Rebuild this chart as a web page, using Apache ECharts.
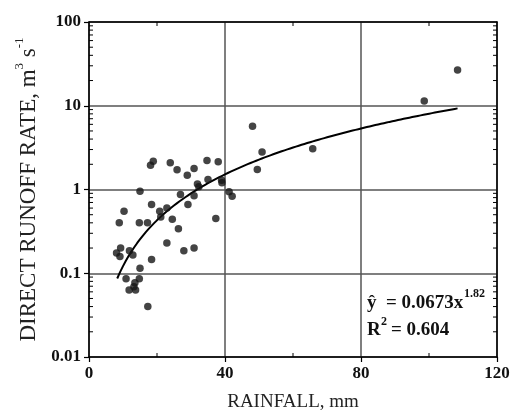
<!DOCTYPE html>
<html>
<head>
<meta charset="utf-8">
<script src="https://cdn.jsdelivr.net/npm/echarts@6/dist/echarts.min.js"></script>
<style>
  html, body { margin: 0; padding: 0; background: #fff; }
  #chart { width: 513px; height: 419px; }
</style>
</head>
<body>
<div id="chart"></div>
<script>
// Storm events: rainfall depth (mm) and direct runoff rate (m3/s)
const rainfall = [
  18.9, 18.1, 23.9, 25.9, 30.9, 28.9, 31.9, 32.3, 15.0, 26.9,
  30.9, 18.4, 10.3, 20.8, 22.9, 29.1, 21.1, 24.5, 8.9, 14.8,
  17.2, 26.3, 22.9, 30.9, 27.9, 9.3, 8.1, 9.1, 11.9, 12.9,
  18.4, 15.0, 10.9, 14.8, 13.5, 13.2, 11.8, 13.7, 17.3, 34.7,
  38.0, 35.0, 39.0, 39.1, 41.2, 42.1, 37.3, 48.1, 50.9, 49.5,
  65.8, 98.6, 108.4
];
const runoff = [
  2.18, 1.95, 2.08, 1.72, 1.78, 1.48, 1.16, 1.08, 0.955, 0.87,
  0.84, 0.66, 0.55, 0.55, 0.60, 0.66, 0.47, 0.44, 0.40, 0.40,
  0.40, 0.34, 0.23, 0.20, 0.185, 0.20, 0.175, 0.158, 0.186, 0.165,
  0.146, 0.115, 0.086, 0.086, 0.077, 0.069, 0.063, 0.063, 0.040, 2.22,
  2.15, 1.32, 1.29, 1.20, 0.94, 0.83, 0.45, 5.7, 2.8, 1.73,
  3.07, 11.4, 26.7
];

// Axis ticks
const xTicks = [0, 40, 80, 120];
const xMinorTicks = [20, 60, 100];
const yTicks = [0.01, 0.1, 1, 10, 100];
const yTickLabels = ['0.01', '0.1', '1', '10', '100'];

// Power-law fit drawn across the observed rainfall range (plot units)
const fitCoef = 0.00184;
const fitExp = 1.82;
const fitXStart = 8.3;
const fitXEnd = 108.4;
const fitSteps = 120;

const points = rainfall.map((x, i) => [x, runoff[i]]);

const fitLine = [];
for (let i = 0; i <= fitSteps; i++) {
  const x = fitXStart + (fitXEnd - fitXStart) * i / fitSteps;
  fitLine.push([x, fitCoef * Math.pow(x, fitExp)]);
}

// Inward minor ticks: [x, y, side] side 0=left 1=right 2=bottom 3=top
const xMin = xTicks[0], xMax = xTicks[xTicks.length - 1];
const yMin = yTicks[0], yMax = yTicks[yTicks.length - 1];
const innerTicks = [];
for (let d = 0; d < yTicks.length - 1; d++) {
  for (let k = 2; k <= 9; k++) {
    const v = yTicks[d] * k;
    innerTicks.push([xMin, v, 0]);
    innerTicks.push([xMax, v, 1]);
  }
}
xMinorTicks.forEach(v => {
  innerTicks.push([v, yMin, 2]);
  innerTicks.push([v, yMax, 3]);
});

const serif = '"Liberation Serif", "DejaVu Serif", serif';

const chart = echarts.init(document.getElementById('chart'), null, { renderer: 'canvas' });

chart.setOption({
  animation: false,
  backgroundColor: '#fff',
  grid: { left: 89, right: 16, top: 22, bottom: 62, containLabel: false },
  xAxis: [
    {
      type: 'value', min: xMin, max: xMax, interval: 40,
      name: 'RAINFALL, mm', nameLocation: 'middle', nameGap: 36,
      nameTextStyle: { fontFamily: serif, fontSize: 19, color: '#222' },
      axisLine: { show: true, onZero: false, lineStyle: { color: '#000', width: 1.5 } },
      axisTick: { show: true, length: 5, lineStyle: { color: '#000', width: 1.2 } },
      axisLabel: { fontFamily: serif, fontWeight: 'bold', fontSize: 17, color: '#111', margin: 8 },
      splitLine: { show: true, lineStyle: { color: '#555', width: 1.5 } }
    },
    {
      type: 'value', min: xMin, max: xMax, position: 'top',
      axisLine: { show: true, onZero: false, lineStyle: { color: '#000', width: 1.5 } },
      axisTick: { show: false }, axisLabel: { show: false }, splitLine: { show: false }
    }
  ],
  yAxis: [
    {
      type: 'log', logBase: 10, min: yMin, max: yMax,
      name: '{t|DIRECT RUNOFF RATE, m}{s|3}{t| s}{s|-1}',
      nameLocation: 'middle', nameGap: 47,
      nameTextStyle: {
        fontFamily: serif, fontSize: 23, color: '#222',
        rich: {
          t: { fontFamily: serif, fontSize: 23, color: '#222', lineHeight: 27, verticalAlign: 'bottom' },
          s: { fontFamily: serif, fontSize: 13, color: '#222', lineHeight: 27, verticalAlign: 'top' }
        }
      },
      axisLine: { show: true, onZero: false, lineStyle: { color: '#000', width: 1.5 } },
      axisTick: { show: true, length: 5, lineStyle: { color: '#000', width: 1.2 } },
      axisLabel: {
        fontFamily: serif, fontWeight: 'bold', fontSize: 17, color: '#111', margin: 8,
        formatter: (v, idx) => yTickLabels[idx]
      },
      splitLine: { show: true, lineStyle: { color: '#555', width: 1.5 } }
    },
    {
      type: 'log', logBase: 10, min: yMin, max: yMax, position: 'right',
      axisLine: { show: true, onZero: false, lineStyle: { color: '#000', width: 1.5 } },
      axisTick: { show: false }, axisLabel: { show: false }, splitLine: { show: false }
    }
  ],
  graphic: [
    { type: 'text', left: 367, top: 294, style: { text: 'ŷ', font: 'bold 19px ' + serif, fill: '#111' } },
    { type: 'text', left: 386, top: 294, style: { text: '= 0.0673x', font: 'bold 19px ' + serif, fill: '#111' } },
    { type: 'text', left: 464, top: 288, style: { text: '1.82', font: 'bold 12px ' + serif, fill: '#111' } },
    { type: 'text', left: 367, top: 321, style: { text: 'R', font: 'bold 19px ' + serif, fill: '#111' } },
    { type: 'text', left: 381, top: 316, style: { text: '2', font: 'bold 12px ' + serif, fill: '#111' } },
    { type: 'text', left: 391, top: 321, style: { text: '= 0.604', font: 'bold 19px ' + serif, fill: '#111' } }
  ],
  series: [
    {
      type: 'scatter', xAxisIndex: 0, yAxisIndex: 0,
      data: points, symbol: 'circle', symbolSize: 7.5,
      itemStyle: { color: '#151515' }, z: 5
    },
    {
      type: 'line', xAxisIndex: 0, yAxisIndex: 0,
      data: fitLine, showSymbol: false, symbol: 'none', smooth: false,
      lineStyle: { color: '#000', width: 2 }, z: 4
    },
    {
      type: 'custom', xAxisIndex: 0, yAxisIndex: 0,
      data: innerTicks, clip: false, silent: true, z: 6,
      encode: { x: 0, y: 1 },
      renderItem: (params, api) => {
        const p = api.coord([api.value(0), api.value(1)]);
        const side = api.value(2);
        const len = 4;
        let dx = 0, dy = 0;
        if (side === 0) dx = len;
        else if (side === 1) dx = -len;
        else if (side === 2) dy = -len;
        else dy = len;
        return {
          type: 'line',
          shape: { x1: p[0], y1: p[1], x2: p[0] + dx, y2: p[1] + dy },
          style: { stroke: '#000', lineWidth: 1 }
        };
      }
    }
  ]
});
</script>
</body>
</html>
